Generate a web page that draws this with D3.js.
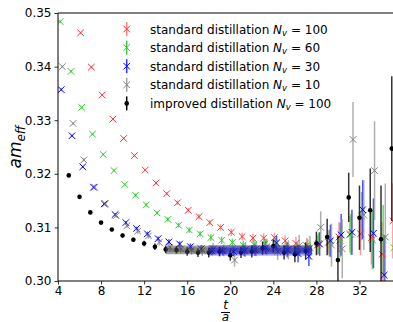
<!DOCTYPE html>
<html><head><meta charset="utf-8">
<script src="https://cdn.jsdelivr.net/npm/d3@7"></script>
<style>
html,body{margin:0;padding:0;background:#fff;}
svg{display:block;font-family:"DejaVu Sans",sans-serif;}
</style></head>
<body>
<svg id="chart" width="393" height="322"></svg>
<script>
// ---------- data ----------
const xTicks = [4, 8, 12, 16, 20, 24, 28, 32];
const yTicks = [0.30, 0.31, 0.32, 0.33, 0.34, 0.35];

const tImproved = d3.range(5, 36);
const improvedVal = [0.3197,0.3157,0.3128,0.3109,0.3096,0.3085,0.3077,0.3070,0.3064,0.3059,0.3058,0.3055,0.3053,0.3053,0.3055,0.3048,0.3053,0.3055,0.3061,0.3065,0.3053,0.3050,0.3056,0.3070,0.3082,0.3039,0.3156,0.3118,0.3132,0.3078,0.3247];
const improvedErr = [0.0002,0.0002,0.0002,0.0003,0.0003,0.0004,0.0004,0.0005,0.0006,0.0007,0.0007,0.0008,0.0008,0.0009,0.0009,0.0010,0.0010,0.0011,0.0012,0.0012,0.0013,0.0015,0.0016,0.0022,0.0034,0.0045,0.0046,0.0060,0.0078,0.0100,0.0135];

const tN100 = d3.range(6, 36);
const n100Val = [0.3463,0.3399,0.3347,0.3302,0.3266,0.3234,0.3207,0.3183,0.3163,0.3146,0.3132,0.3120,0.3109,0.3100,0.3091,0.3083,0.3080,0.3080,0.3081,0.3075,0.3070,0.3066,0.3067,0.3072,0.3082,0.3087,0.3088,0.3081,0.3050,0.3112];
const n100Err = [0.0002,0.0002,0.0002,0.0002,0.0002,0.0002,0.0002,0.0003,0.0003,0.0004,0.0004,0.0005,0.0005,0.0006,0.0007,0.0007,0.0008,0.0009,0.0009,0.0010,0.0012,0.0014,0.0018,0.0022,0.0028,0.0034,0.0040,0.0050,0.0060,0.0070];

const tN60 = d3.range(4, 36);
const n60Val = [0.3484,0.3391,0.3324,0.3274,0.3236,0.3206,0.3180,0.3160,0.3142,0.3127,0.3115,0.3104,0.3095,0.3088,0.3081,0.3076,0.3072,0.3067,0.3068,0.3069,0.3071,0.3062,0.3059,0.3063,0.3070,0.3071,0.3076,0.3087,0.3121,0.3077,0.3077,0.3062];
const n60Err = [0.0002,0.0002,0.0002,0.0002,0.0002,0.0002,0.0002,0.0003,0.0003,0.0003,0.0004,0.0004,0.0005,0.0005,0.0006,0.0007,0.0007,0.0008,0.0009,0.0010,0.0010,0.0011,0.0013,0.0015,0.0020,0.0025,0.0032,0.0038,0.0045,0.0055,0.0065,0.0075];

const tN30 = d3.range(4, 35);
const n30Val = [0.3357,0.3271,0.3213,0.3175,0.3144,0.3124,0.3109,0.3098,0.3088,0.3079,0.3073,0.3069,0.3064,0.3060,0.3056,0.3056,0.3055,0.3056,0.3058,0.3062,0.3071,0.3058,0.3051,0.3046,0.3069,0.3075,0.3086,0.3091,0.3133,0.3089,0.3011];
const n30Err = [0.0002,0.0002,0.0002,0.0002,0.0002,0.0003,0.0003,0.0003,0.0004,0.0004,0.0005,0.0005,0.0006,0.0007,0.0008,0.0008,0.0009,0.0010,0.0011,0.0012,0.0013,0.0014,0.0016,0.0018,0.0022,0.0030,0.0039,0.0042,0.0055,0.0065,0.0075];

const tN10 = d3.range(4, 35);
const n10Val = [0.3400,0.3294,0.3226,0.3175,0.3144,0.3122,0.3103,0.3093,0.3084,0.3072,0.3063,0.3060,0.3058,0.3057,0.3060,0.3057,0.3039,0.3058,0.3060,0.3064,0.3055,0.3058,0.3066,0.3062,0.3100,0.3067,0.3060,0.3264,0.3123,0.3206,0.3082];
const n10Err = [0.0002,0.0002,0.0003,0.0003,0.0003,0.0004,0.0004,0.0005,0.0005,0.0006,0.0008,0.0008,0.0009,0.0010,0.0011,0.0011,0.0012,0.0013,0.0014,0.0015,0.0016,0.0018,0.0020,0.0022,0.0030,0.0040,0.0055,0.0070,0.0065,0.0092,0.0100];

const seriesNames = ["standard distillation", "standard distillation", "standard distillation", "standard distillation", "improved distillation"];
const seriesNv = ["100", "60", "30", "10", "100"];

// fit bands: [tStart, tEnd, center, halfWidth]
const bandImproved = [14, 27.6, 0.3058, 0.0008];
const bandN30 = [18, 27.6, 0.3057, 0.0010];

// ---------- layout ----------
const svg = d3.select("#chart");
const L = 58, R = 395, T = 13, B = 281;
const x = d3.scaleLinear().domain([4, 35.3]).range([L, R]);
const y = d3.scaleLinear().domain([0.30, 0.35]).range([B, T]);

const defs = svg.append("defs");
defs.append("clipPath").attr("id","clip").append("rect")
  .attr("x", L).attr("y", T).attr("width", R - L).attr("height", B - T);

const plot = svg.append("g").attr("clip-path","url(#clip)");

const styles = [
  {t: tN100, v: n100Val, e: n100Err, off: 0.1, color: "#ff3030", barColor: "#ff8080", barOp: 0.8},
  {t: tN60,  v: n60Val,  e: n60Err,  off: 0.2, color: "#2ecc2e", barColor: "#3ccc3c", barOp: 0.8},
  {t: tN30,  v: n30Val,  e: n30Err,  off: 0.3, color: "#0000ff", barColor: "#3030ff", barOp: 0.85},
  {t: tN10,  v: n10Val,  e: n10Err,  off: 0.4, color: "#808080", barColor: "#a0a0a0", barOp: 0.85}
];

function drawX(g, cx, cy, s, color) {
  g.append("path")
    .attr("d", `M${cx-s},${cy-s}L${cx+s},${cy+s}M${cx-s},${cy+s}L${cx+s},${cy-s}`)
    .attr("stroke", color).attr("stroke-width", 1).attr("fill", "none");
}

styles.forEach(st => {
  st.t.forEach((t, i) => {
    plot.append("line")
      .attr("x1", x(t + st.off)).attr("x2", x(t + st.off))
      .attr("y1", y(st.v[i] - st.e[i])).attr("y2", y(st.v[i] + st.e[i]))
      .attr("stroke", st.barColor).attr("stroke-opacity", st.barOp).attr("stroke-width", 1.5);
  });
});
styles.forEach(st => {
  st.t.forEach((t, i) => {
    drawX(plot, x(t + st.off), y(st.v[i]), 3.3, st.color);
  });
});
tImproved.forEach((t, i) => {
  plot.append("line")
    .attr("x1", x(t)).attr("x2", x(t))
    .attr("y1", y(improvedVal[i] - improvedErr[i])).attr("y2", y(improvedVal[i] + improvedErr[i]))
    .attr("stroke", "#000").attr("stroke-opacity", 0.8).attr("stroke-width", 1.5);
  plot.append("circle").attr("cx", x(t)).attr("cy", y(improvedVal[i])).attr("r", 2.3).attr("fill", "#000");
});

function band(b, color, op) {
  plot.append("rect")
    .attr("x", x(b[0])).attr("width", x(b[1]) - x(b[0]))
    .attr("y", y(b[2] + b[3])).attr("height", y(b[2] - b[3]) - y(b[2] + b[3]))
    .attr("fill", color).attr("fill-opacity", op);
  plot.append("rect")
    .attr("x", x(b[0])).attr("width", x(b[1]) - x(b[0]))
    .attr("y", y(b[2] + b[3] * 0.5)).attr("height", y(b[2] - b[3] * 0.5) - y(b[2] + b[3] * 0.5))
    .attr("fill", color).attr("fill-opacity", op * 0.6);
}
band(bandImproved, "#404040", 0.5);
band(bandN30, "#0000ff", 0.3);

// ---------- axes ----------
const xAxis = svg.append("g").attr("transform", `translate(0,${B})`)
  .call(d3.axisBottom(x).tickValues(xTicks).tickSize(3.5).tickPadding(2).tickFormat(d3.format("d")));
const yAxis = svg.append("g").attr("transform", `translate(${L},0)`)
  .call(d3.axisLeft(y).tickValues(yTicks).tickSize(3.5).tickPadding(3).tickFormat(d3.format(".2f")));
[xAxis, yAxis].forEach(a => {
  a.select(".domain").remove();
  a.selectAll("line").attr("stroke", "#000").attr("stroke-width", 0.8);
  a.selectAll("text").attr("font-family", "DejaVu Sans").attr("font-size", 12).attr("fill", "#000");
});
svg.append("line").attr("x1", L).attr("x2", L).attr("y1", T).attr("y2", B).attr("stroke", "#000").attr("stroke-width", 1);
svg.append("line").attr("x1", L).attr("x2", R).attr("y1", B).attr("y2", B).attr("stroke", "#000").attr("stroke-width", 1);
svg.append("line").attr("x1", L).attr("x2", R).attr("y1", T).attr("y2", T).attr("stroke", "#000").attr("stroke-width", 1);
svg.append("line").attr("x1", R).attr("x2", R).attr("y1", T).attr("y2", B).attr("stroke", "#000").attr("stroke-width", 1);

// x label t/a
const xc = (L + R) / 2 - 1;
svg.append("text").attr("x", xc).attr("y", 309).attr("text-anchor", "middle")
  .attr("font-size", 12).attr("font-style", "italic").text("t");
svg.append("line").attr("x1", xc - 4.5).attr("x2", xc + 4.5).attr("y1", 312.5).attr("y2", 312.5)
  .attr("stroke", "#000").attr("stroke-width", 1);
svg.append("text").attr("x", xc).attr("y", 321).attr("text-anchor", "middle")
  .attr("font-size", 12).attr("font-style", "italic").text("a");

// y label
const yl = svg.append("text").attr("transform", `translate(21,${(T + B) / 2}) rotate(-90)`)
  .attr("text-anchor", "middle").attr("font-size", 17).attr("font-style", "italic");
yl.append("tspan").text("am");
yl.append("tspan").attr("font-size", 12).attr("dy", 4).text("eff");

// ---------- legend ----------
const legColors = [
  {c: "#ff3030", b: "#ff8080"}, {c: "#2ecc2e", b: "#3ccc3c"}, {c: "#0000ff", b: "#3030ff"},
  {c: "#808080", b: "#a0a0a0"}, {c: "#000", b: "#000"}
];
const lg = svg.append("g");
seriesNames.forEach((name, i) => {
  const cy = 29 + i * 18.6;
  const mx = 126.7;
  lg.append("line").attr("x1", mx).attr("x2", mx).attr("y1", cy - 7).attr("y2", cy + 7)
    .attr("stroke", legColors[i].b).attr("stroke-width", 1.5);
  if (i < 4) drawX(lg, mx, cy, 3.3, legColors[i].c);
  else lg.append("circle").attr("cx", mx).attr("cy", cy).attr("r", 2.3).attr("fill", "#000");
  const tx = lg.append("text").attr("x", 150).attr("y", cy + 4.5).attr("font-size", 12);
  tx.append("tspan").text(name + " ");
  tx.append("tspan").attr("font-style", "italic").text("N");
  tx.append("tspan").attr("font-style", "italic").attr("font-size", 8.5).attr("dy", 2).text("v");
  tx.append("tspan").attr("dy", -2).text(" = " + seriesNv[i]);
});
</script>
</body></html>
